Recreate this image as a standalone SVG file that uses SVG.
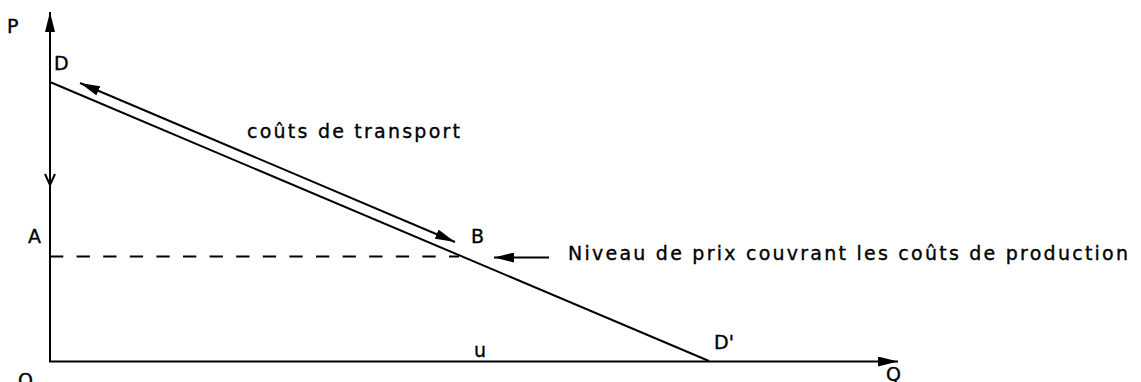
<svg xmlns="http://www.w3.org/2000/svg" width="1141" height="382" viewBox="0 0 1141 382">
<style>
.ln{stroke:#000;stroke-width:2;fill:none}
.t{font-family:"DejaVu Sans","Liberation Sans",sans-serif;font-size:19px;fill:#000;stroke:#000;stroke-width:0.35}
</style>
<defs>
<marker id="ah" viewBox="0 0 20 10" refX="20" refY="5" markerWidth="20" markerHeight="10" markerUnits="userSpaceOnUse" orient="auto-start-reverse">
<path d="M0,0 L20,5 L0,10 Z" fill="#000"/>
</marker>
</defs>
<rect width="1141" height="382" fill="#fff"/>
<g id="connectors">
<line class="ln" x1="50" y1="362" x2="50" y2="12" marker-end="url(#ah)"/>
<line class="ln" x1="49" y1="361.5" x2="898" y2="361.5" marker-end="url(#ah)"/>
<polyline class="ln" points="45,174 50,185 55,174"/>
<line class="ln" x1="50" y1="82" x2="709" y2="361"/>
<line class="ln" x1="80" y1="83" x2="455" y2="242" marker-start="url(#ah)" marker-end="url(#ah)"/>
<line class="ln" x1="50" y1="256.5" x2="459" y2="256.5" stroke-dasharray="13.3 13.3"/>
<line class="ln" x1="549" y1="257.5" x2="494" y2="257.5" marker-end="url(#ah)"/>
</g>
<g id="labels">
<text class="t" x="7" y="33">P</text>
<text class="t" x="54" y="70">D</text>
<text class="t" x="28" y="243">A</text>
<text class="t" x="471" y="243">B</text>
<text class="t" x="714" y="349">D'</text>
<text class="t" x="474" y="357">u</text>
<text class="t" x="886" y="381">Q</text>
<text class="t" x="18" y="387">O</text>
<text class="t" x="247" y="138" textLength="213">coûts de transport</text>
<text class="t" x="568" y="260" textLength="560">Niveau de prix couvrant les coûts de production</text>
</g>
</svg>
